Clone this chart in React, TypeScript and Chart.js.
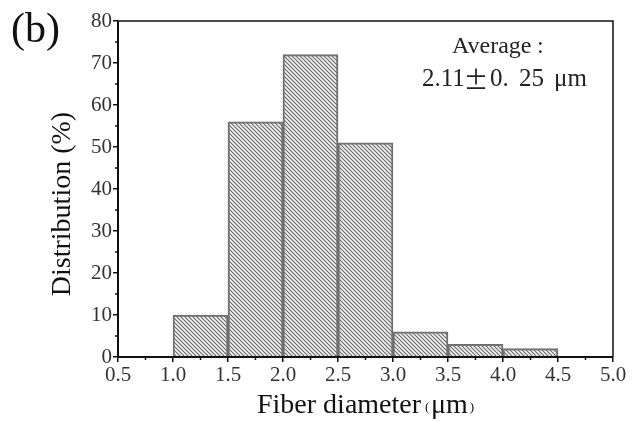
import React, { useEffect, useRef } from "react";
import { Chart, registerables } from "chart.js";

Chart.register(...registerables);

const binCenters = [1.25, 1.75, 2.25, 2.75, 3.25, 3.75, 4.25];
const distribution = [10, 56, 72, 51, 6, 3, 2];
const xTicks = [0.5, 1.0, 1.5, 2.0, 2.5, 3.0, 3.5, 4.0, 4.5, 5.0];
const xMinorTicks = [0.75, 1.25, 1.75, 2.25, 2.75, 3.25, 3.75, 4.25, 4.75];
const yMinorTicks = [5, 15, 25, 35, 45, 55, 65, 75];
const panelLabel = "(b)";
const xTitle = "Fiber diameter (μm)";
const yTitle = "Distribution (%)";
const noteLine1 = "Average：";
const noteLine2 = "2.11±0. 25 μm";

const SERIF = "'Liberation Serif', 'DejaVu Serif', serif";

function makeHatch(): CanvasPattern | string {
  const c = document.createElement("canvas");
  const s = 4;
  c.width = s;
  c.height = s;
  const g = c.getContext("2d");
  if (!g) return "#ccc";
  g.fillStyle = "#f2f2f2";
  g.fillRect(0, 0, s, s);
  g.strokeStyle = "#6a6a6a";
  g.lineWidth = 1.1;
  g.beginPath();
  g.moveTo(-1, -1);
  g.lineTo(s + 1, s + 1);
  g.moveTo(-1, s - 1);
  g.lineTo(1, s + 1);
  g.moveTo(s - 1, -1);
  g.lineTo(s + 1, 1);
  g.stroke();
  const p = g.createPattern(c, "repeat");
  return p || "#ccc";
}

const decorPlugin = {
  id: "decor",
  afterDraw(chart: any) {
    const { ctx, chartArea, scales } = chart;
    const { left, right, top, bottom } = chartArea;
    ctx.save();
    // frame
    ctx.strokeStyle = "#111";
    ctx.lineWidth = 1.5;
    ctx.beginPath();
    ctx.moveTo(left, top);
    ctx.lineTo(right, top);
    ctx.lineTo(right, bottom);
    ctx.stroke();
    ctx.lineWidth = 2;
    ctx.beginPath();
    ctx.moveTo(left, top);
    ctx.lineTo(left, bottom);
    ctx.lineTo(right, bottom);
    ctx.stroke();
    // minor ticks
    ctx.lineWidth = 1.5;
    ctx.beginPath();
    for (const v of xMinorTicks) {
      const px = scales.x.getPixelForValue(v);
      ctx.moveTo(px, bottom);
      ctx.lineTo(px, bottom + 3);
    }
    for (const v of yMinorTicks) {
      const py = scales.y.getPixelForValue(v);
      ctx.moveTo(left, py);
      ctx.lineTo(left - 3, py);
    }
    ctx.stroke();
    // panel label
    ctx.fillStyle = "#111";
    ctx.font = `42px ${SERIF}`;
    ctx.textAlign = "left";
    ctx.textBaseline = "middle";
    ctx.fillText(panelLabel, 11, 31);

    // note
    ctx.font = `24px ${SERIF}`;
    ctx.fillStyle = "#222";
    ctx.textAlign = "left";
    ctx.fillText(noteLine1.replace("：", ""), 452, 47);
    ctx.fillText(":", 537, 47);
    const parts2 = noteLine2.split("±");
    ctx.font = `25px ${SERIF}`;
    ctx.fillText(parts2[0], 422, 79);
    ctx.textAlign = "center";
    ctx.font = `25px 'Noto Sans CJK SC', ${SERIF}`;
    ctx.fillText("±", 476, 79);
    ctx.font = `25px ${SERIF}`;
    ctx.textAlign = "left";
    const rest = parts2[1].split(" ");
    ctx.fillText(rest[0], 490, 79);
    ctx.fillText(rest[1], 519, 79);
    ctx.fillText(rest[2], 554, 79);

    // x title with small parentheses
    const m = xTitle.match(/^(.*?)\s*\((.*)\)$/);
    const main = m ? m[1] : xTitle;
    const unit = m ? m[2] : "";
    ctx.fillStyle = "#111";
    ctx.textBaseline = "alphabetic";
    ctx.font = `28px ${SERIF}`;
    ctx.textAlign = "left";
    ctx.fillText(main, 257, 413);
    const wMain = ctx.measureText(main).width;
    ctx.font = `13px ${SERIF}`;
    ctx.fillText("(", 257 + wMain + 4, 411);
    ctx.font = `28px ${SERIF}`;
    ctx.fillText(unit, 257 + wMain + 10, 413);
    const wUnit = ctx.measureText(unit).width;
    ctx.font = `13px ${SERIF}`;
    ctx.fillText(")", 257 + wMain + 12 + wUnit, 411);

    // y title
    ctx.save();
    ctx.translate(63, 204);
    ctx.rotate(-Math.PI / 2);
    ctx.font = `28px ${SERIF}`;
    ctx.textAlign = "center";
    ctx.textBaseline = "middle";
    ctx.fillText(yTitle, 0, 0);
    ctx.restore();

    ctx.restore();
  },
};

export default function App() {
  const ref = useRef<HTMLCanvasElement | null>(null);
  useEffect(() => {
    if (!ref.current) return;
    const hatch = makeHatch();
    const chart = new Chart(ref.current, {
      type: "bar",
      data: {
        datasets: [
          {
            data: binCenters.map((x, i) => ({ x, y: distribution[i] })),
            backgroundColor: hatch as any,
            borderColor: "#707070",
            borderWidth: 2,
            barPercentage: 1,
            categoryPercentage: 1,
          },
        ],
      },
      options: {
        responsive: false,
        animation: false,
        layout: { padding: { top: 21, right: 23, left: 0, bottom: 0 } },
        plugins: { legend: { display: false }, tooltip: { enabled: false } },
        scales: {
          x: {
            type: "linear",
            offset: false,
            min: 0.5,
            max: 5.0,
            afterBuildTicks: (scale: any) => {
              scale.ticks = xTicks.map((v) => ({ value: v }));
            },
            afterFit: (scale: any) => {
              scale.height = 64;
            },
            ticks: {
              callback: (v: any) => Number(v).toFixed(1),
              font: { family: SERIF, size: 21 },
              color: "#333",
              padding: 1,
              maxRotation: 0,
              autoSkip: false,
            },
            grid: {
              offset: false,
              drawOnChartArea: false,
              drawTicks: true,
              tickLength: 5,
              tickColor: "#111",
              lineWidth: 1.5,
            },
            border: { display: false },
            title: { display: false },
          },
          y: {
            min: 0,
            max: 80,
            ticks: {
              stepSize: 10,
              font: { family: SERIF, size: 21 },
              color: "#333",
              padding: 1,
            },
            afterFit: (scale: any) => {
              scale.width = 118;
            },
            grid: {
              drawOnChartArea: false,
              drawTicks: true,
              tickLength: 5,
              tickColor: "#111",
              lineWidth: 1.5,
            },
            border: { display: false },
            title: { display: false },
          },
        },
      },
      plugins: [decorPlugin],
    });
    return () => chart.destroy();
  }, []);
  return (
    <div style={{ position: "fixed", left: 0, top: 0, width: 636, height: 421, background: "#fff" }}>
      <canvas ref={ref} width={636} height={421} />
    </div>
  );
}
